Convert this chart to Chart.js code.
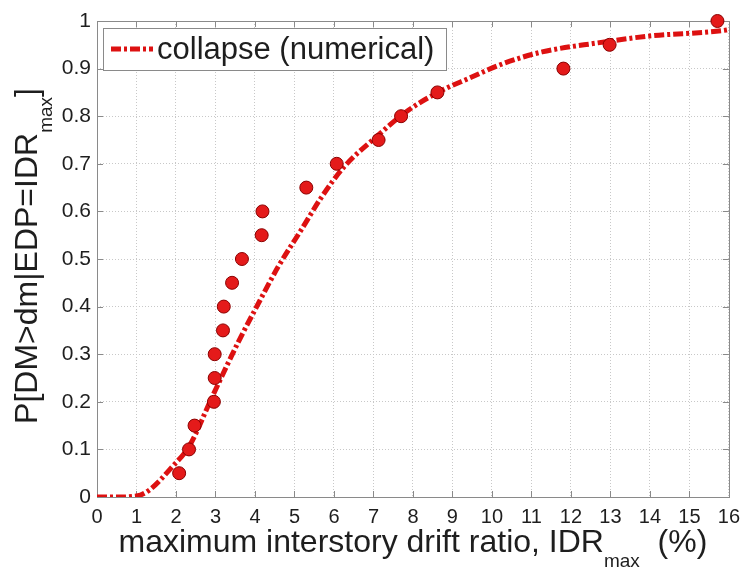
<!DOCTYPE html>
<html>
<head>
<meta charset="UTF-8">
<title>collapse fragility</title>
<script src="https://cdn.jsdelivr.net/npm/chart.js"></script>
<style>
  body { margin: 0; background: #fff; }
  #grafico { display: block; }
</style>
</head>
<body>
<canvas id="grafico" width="748" height="570"></canvas>
<script>
// curva numerica
const curveX = [0, 0.5, 1.0, 1.33, 1.91, 2.33, 2.92, 3.58, 4.0, 4.59, 5.17, 5.67, 6.26, 7.09, 7.84, 8.68, 9.43, 10.27, 11.27, 12.68, 13.94, 15.94, 16];
const curveY = [0, 0, 0.002, 0.015, 0.064, 0.106, 0.211, 0.326, 0.393, 0.484, 0.561, 0.628, 0.694, 0.758, 0.81, 0.852, 0.88, 0.91, 0.935, 0.954, 0.968, 0.981, 0.982];

// pontos (dados)
const pointX = [2.08, 2.33, 2.47, 2.96, 2.98, 2.98, 3.19, 3.21, 3.42, 3.67, 4.17, 4.19, 5.3, 6.07, 7.13, 7.7, 8.62, 11.81, 12.98, 15.71];
const pointY = [0.05, 0.10, 0.15, 0.20, 0.25, 0.30, 0.35, 0.40, 0.45, 0.50, 0.55, 0.60, 0.65, 0.70, 0.75, 0.80, 0.85, 0.90, 0.95, 1.00];

const xTicks = [0, 1, 2, 3, 4, 5, 6, 7, 8, 9, 10, 11, 12, 13, 14, 15, 16];
const yTicks = [0, 0.1, 0.2, 0.3, 0.4, 0.5, 0.6, 0.7, 0.8, 0.9, 1];

const legendLabel = 'collapse (numerical)';
const fonte = '"Liberation Sans", Arial, sans-serif';
const corTexto = '#1e1e1e';
const corEixo = '#8a8a8a';
const tracejado = [10, 3, 3, 3];

const curveData = curveX.map((x, i) => ({ x: x, y: curveY[i] }));
const pointData = pointX.map((x, i) => ({ x: x, y: pointY[i] }));

// desenha texto com subscrito
function textoSub(ctx, partes, x, y, tam) {
  const tamSub = Math.round(tam * 0.6);
  let w = 0;
  partes.forEach(p => {
    ctx.font = (p.sub ? tamSub : tam) + 'px ' + fonte;
    w += ctx.measureText(p.t).width;
  });
  let cx = x - w / 2;
  partes.forEach(p => {
    ctx.font = (p.sub ? tamSub : tam) + 'px ' + fonte;
    ctx.fillText(p.t, cx, p.sub ? y + tam * 0.47 : y);
    cx += ctx.measureText(p.t).width;
  });
}

const molduraPlugin = {
  id: 'moldura',
  beforeDatasetsDraw(chart) {
    const { ctx, chartArea: a, scales } = chart;
    ctx.save();
    ctx.strokeStyle = corEixo;
    ctx.lineWidth = 1;
    // ticks para dentro
    xTicks.forEach(v => {
      const px = Math.round(scales.x.getPixelForValue(v)) + 0.5;
      ctx.beginPath();
      ctx.moveTo(px, a.bottom); ctx.lineTo(px, a.bottom - 6);
      ctx.moveTo(px, a.top); ctx.lineTo(px, a.top + 6);
      ctx.stroke();
    });
    yTicks.forEach(v => {
      const py = Math.round(scales.y.getPixelForValue(v)) + 0.5;
      ctx.beginPath();
      ctx.moveTo(a.left, py); ctx.lineTo(a.left + 6, py);
      ctx.moveTo(a.right, py); ctx.lineTo(a.right - 6, py);
      ctx.stroke();
    });
    ctx.strokeRect(Math.round(a.left) + 0.5, Math.round(a.top) + 0.5, Math.round(a.right - a.left), Math.round(a.bottom - a.top));
    ctx.restore();
  },
  afterDraw(chart) {
    const { ctx, chartArea: a } = chart;
    ctx.save();
    ctx.fillStyle = corTexto;
    ctx.textBaseline = 'alphabetic';
    ctx.textAlign = 'left';
    // titulo eixo x
    textoSub(ctx, [
      { t: 'maximum interstory drift ratio, IDR' },
      { t: 'max', sub: true },
      { t: '  (%)' }
    ], (a.left + a.right) / 2, 552, 32);
    // titulo eixo y
    ctx.translate(37, 256);
    ctx.rotate(-Math.PI / 2);
    textoSub(ctx, [
      { t: 'P[DM>dm|EDP=IDR' },
      { t: 'max', sub: true },
      { t: ']' }
    ], 0, 0, 32);
    ctx.restore();

    // legenda
    ctx.save();
    const lx = a.left + 6, ly = a.top + 7, lw = 343, lh = 42;
    ctx.fillStyle = '#fff';
    ctx.fillRect(lx, ly, lw, lh);
    ctx.strokeStyle = corEixo;
    ctx.lineWidth = 1;
    ctx.strokeRect(lx + 0.5, ly + 0.5, lw, lh);
    ctx.strokeStyle = '#dd1111';
    ctx.lineWidth = 5;
    ctx.setLineDash(tracejado);
    ctx.beginPath();
    ctx.moveTo(lx + 8, ly + 21);
    ctx.lineTo(lx + 50, ly + 21);
    ctx.stroke();
    ctx.setLineDash([]);
    ctx.fillStyle = corTexto;
    ctx.font = '31px ' + fonte;
    ctx.textBaseline = 'middle';
    ctx.fillText(legendLabel, lx + 54, ly + 22);
    ctx.restore();
  }
};

new Chart(document.getElementById('grafico'), {
  type: 'scatter',
  data: {
    datasets: [{
      label: 'data',
      data: pointData,
      backgroundColor: '#e41a1a',
      borderColor: '#8a0000',
      borderWidth: 1,
      pointRadius: 6.5,
      clip: false
    }, {
      label: legendLabel,
      data: curveData,
      showLine: true,
      borderColor: '#dd1111',
      borderWidth: 5,
      borderDash: tracejado,
      pointRadius: 0,
      cubicInterpolationMode: 'monotone',
      fill: false
    }]
  },
  plugins: [molduraPlugin],
  options: {
    responsive: false,
    animation: false,
    layout: { padding: { left: 0, right: 13, top: 21, bottom: 0 } },
    plugins: { legend: { display: false }, tooltip: { enabled: false } },
    scales: {
      x: {
        type: 'linear', min: 0, max: 16,
        afterBuildTicks: s => { s.ticks = xTicks.map(v => ({ value: v })); },
        afterFit: s => { s.height = 73; },
        grid: { color: '#c8c8c8', drawTicks: false },
        border: { display: false, dash: [1, 2] },
        ticks: { padding: 8, color: corTexto, font: { family: fonte, size: 20 }, maxRotation: 0 }
      },
      y: {
        type: 'linear', min: 0, max: 1,
        afterBuildTicks: s => { s.ticks = yTicks.map(v => ({ value: v })); },
        afterFit: s => { s.width = 97; },
        grid: { color: '#c8c8c8', drawTicks: false },
        border: { display: false, dash: [1, 2] },
        ticks: { padding: 6, color: corTexto, font: { family: fonte, size: 21 }, callback: v => String(v) }
      }
    }
  }
});
</script>
</body>
</html>
